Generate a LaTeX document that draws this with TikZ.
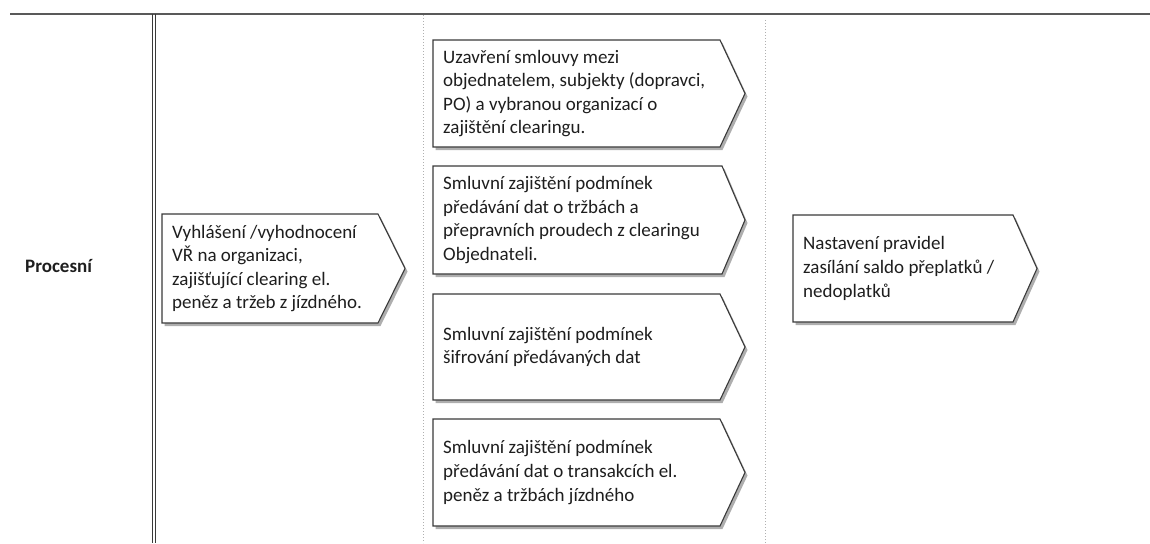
\documentclass[tikz,border=0pt]{standalone}
\usepackage{fontspec}
\setmainfont{Carlito}
\usetikzlibrary{shadows}
\definecolor{rulegray}{HTML}{595959}
\definecolor{boxedge}{HTML}{3A3A3A}
\definecolor{dotgray}{HTML}{B0B0B0}
\definecolor{txt}{HTML}{1E1E1E}
\tikzset{
  boxline/.style={draw=boxedge, line width=1.1pt, fill=white, line join=miter,
    drop shadow={opacity=0.45, shadow xshift=2.5pt, shadow yshift=-3pt, fill=black!70}},
  boxtext/.style={anchor=west, inner sep=0pt, align=left, text=txt,
    font=\fontsize{19pt}{23.6pt}\selectfont},
  mainrule/.style={draw=rulegray, line width=2pt},
  colrule/.style={draw=boxedge, line width=0.9pt},
  lanesep/.style={draw=dotgray, line width=1pt, dotted},
}
% chevron-shaped process box: name, x1, y1, x2, y2, tip x, text
\newcommand\chevbox[7]{%
  \path[boxline] (#2,#3) -- (#4,#3) -- (#6,{(#3+#5)/2}) -- (#4,#5) -- (#2,#5) -- cycle;
  \node[boxtext] (#1) at ({#2+10},{(#3+#5)/2}) {#7};
}
\begin{document}
\begin{tikzpicture}[x=1pt,y=-1pt]
\useasboundingbox (0,0) rectangle (1150,543);

% table rules
\draw[mainrule] (10,14) -- (1150,14);
\draw[colrule] (152,14) -- (152,543);
\draw[colrule] (155.5,14) -- (155.5,543);
\draw[lanesep] (423,15) -- (423,543);
\draw[lanesep] (765,20) -- (765,543);

% row label
\node[boxtext, font=\fontsize{19pt}{23.6pt}\selectfont\bfseries] (label) at (25,266) {Procesní};

% process steps
\chevbox{vr}{162}{214}{378}{323}{405}{Vyhlášení /vyhodnocení\\VŘ na organizaci,\\zajišťující clearing el.\\peněz a tržeb z jízdného.}
\chevbox{smlouva}{433}{40}{720}{147}{745}{Uzavření smlouvy mezi\\objednatelem, subjekty (dopravci,\\PO) a vybranou organizací o\\zajištění clearingu.}
\chevbox{data}{433}{166}{722}{274}{745}{Smluvní zajištění podmínek\\předávání dat o tržbách a\\přepravních proudech z clearingu\\Objednateli.}
\chevbox{sifra}{433}{294}{720}{400}{745}{Smluvní zajištění podmínek\\šifrování předávaných dat}
\chevbox{transakce}{433}{419}{720}{526}{745}{Smluvní zajištění podmínek\\předávání dat o transakcích el.\\peněz a tržbách jízdného}
\chevbox{saldo}{793}{215}{1013}{322}{1037}{Nastavení pravidel\\zasílání saldo přeplatků /\\nedoplatků}
\end{tikzpicture}
\end{document}
